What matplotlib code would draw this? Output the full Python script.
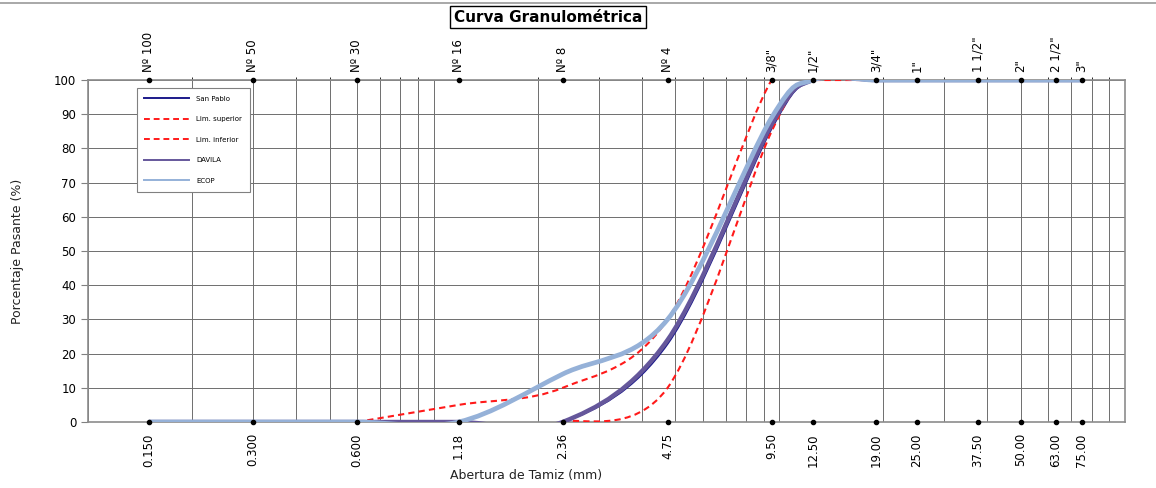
import numpy as np
import matplotlib.pyplot as plt
from matplotlib.path import Path
from matplotlib.patches import PathPatch
from matplotlib.lines import Line2D

# sieve openings (mm) and names
sizes = [0.15, 0.3, 0.6, 1.18, 2.36, 4.75, 9.5, 12.5, 19, 25, 37.5, 50, 63, 75]
size_labels = ["0.150", "0.300", "0.600", "1.18", "2.36", "4.75", "9.50", "12.50",
               "19.00", "25.00", "37.50", "50.00", "63.00", "75.00"]
sieve_names = ["Nº 100", "Nº 50", "Nº 30", "Nº 16", "Nº 8", "Nº 4", '3/8"', '1/2"',
               '3/4"', '1"', '1 1/2"', '2"', '2 1/2"', '3"']

san_pablo = [0, 0, 0, 0, 0, 23, 86, 100, 100, 100, 100, 100, 100, 100]
davila = [0, 0, 0, 0, 0, 24, 87, 100, 100, 100, 100, 100, 100, 100]
ecop = [0, 0, 0, 0, 14, 30, 89, 100, 100, 100, 100, 100, 100, 100]

lim_sup_sizes = [0.6, 1.18, 2.36, 4.75, 9.5, 12.5, 19, 25, 37.5, 50, 63, 75]
lim_sup = [0, 5, 10, 30, 100, 100, 100, 100, 100, 100, 100, 100]
lim_inf_sizes = [2.36, 4.75, 9.5, 12.5, 19, 25, 37.5, 50, 63, 75]
lim_inf = [0, 10, 85, 100, 100, 100, 100, 100, 100, 100]


def smooth_path(xs, ys):
    # excel-like smoothed line: catmull-rom as cubic bezier in (log x, y)
    lx = np.log10(xs)
    ys = np.asarray(ys, dtype=float)
    n = len(lx)
    verts = [(xs[0], ys[0])]
    codes = [Path.MOVETO]
    for i in range(n - 1):
        i0 = max(i - 1, 0)
        i3 = min(i + 2, n - 1)
        c1x = lx[i] + (lx[i + 1] - lx[i0]) / 6
        c1y = ys[i] + (ys[i + 1] - ys[i0]) / 6
        c2x = lx[i + 1] - (lx[i3] - lx[i]) / 6
        c2y = ys[i + 1] - (ys[i3] - ys[i]) / 6
        verts += [(10 ** c1x, c1y), (10 ** c2x, c2y), (xs[i + 1], ys[i + 1])]
        codes += [Path.CURVE4] * 3
    return Path(verts, codes)


GRID = '#6e6e6e'

fig = plt.figure(figsize=(11.56, 4.88), dpi=100)
ax = fig.add_axes([0.0761, 0.1352, 0.8971, 0.7008])
ax.set_xscale('log')
ax.set_xlim(0.1, 100)
ax.set_ylim(0, 100)

ax.grid(True, which='major', axis='y', color=GRID, lw=0.7)
ax.set_yticks(range(0, 101, 10))
ax.tick_params(axis='y', labelsize=8.5, length=5, color='#808080')
for s in ax.spines.values():
    s.set_color('#8c8c8c')
    s.set_linewidth(1.2)

ax.set_xticks(sizes, labels=size_labels, rotation=90, fontsize=8.5)
ax.set_xticks([], minor=True)
ax.tick_params(axis='x', which='both', length=0, pad=8)
# gridlines at standard log positions
for d in [0.1, 1, 10]:
    for k in range(1, 10):
        ax.axvline(d * k, color=GRID, lw=0.7, zorder=0.5)

top = ax.secondary_xaxis('top')
top.set_xticks(sizes, labels=sieve_names, rotation=90, fontsize=8.5)
top.tick_params(length=0, pad=6)
top.spines['top'].set_visible(False)

series = [
    (sizes, san_pablo, 'San Pablo', '#1c1a8a', 1.8, '-'),
    (lim_sup_sizes, lim_sup, 'Lim. superior', '#ff1a1a', 1.5, (0, (3, 2))),
    (lim_inf_sizes, lim_inf, 'Lim. inferior', '#ff1a1a', 1.5, (0, (3, 2))),
    (sizes, davila, 'DAVILA', '#65579b', 3.2, '-'),
    (sizes, ecop, 'ECOP', '#95b1d8', 3.4, '-'),
]
handles = []
for i, (xs, ys, name, col, lw, ls) in enumerate(series):
    patch = PathPatch(smooth_path(xs, ys), fill=False, edgecolor=col, lw=lw,
                      linestyle=ls, zorder=3 + i, capstyle='butt')
    ax.add_patch(patch)
    handles.append(Line2D([], [], color=col, lw=1.4, linestyle=ls))

# sieve markers along bottom and top
ax.scatter(sizes, [0] * len(sizes), s=9, color='black', zorder=10, clip_on=False)
ax.scatter(sizes, [100] * len(sizes), s=9, color='black', zorder=10, clip_on=False)

leg = ax.legend(handles, [s[2] for s in series], loc='upper left',
                bbox_to_anchor=(0.047, 0.977), borderaxespad=0, fontsize=5,
                handlelength=6.5, labelspacing=2.1, fancybox=False,
                edgecolor='#808080', framealpha=1, borderpad=1.1, handletextpad=1.0)
leg.get_frame().set_linewidth(0.8)

ax.set_ylabel('Porcentaje Pasante (%)', fontsize=9, color='#222222')
ax.yaxis.set_label_coords(-0.062, 0.5)
fig.text(0.455, 0.018, 'Abertura de Tamiz (mm)', fontsize=9, ha='center', color='#222222')

fig.text(0.474, 0.965, 'Curva Granulométrica', fontsize=11, fontweight='bold',
         ha='center', va='center',
         bbox=dict(boxstyle='square,pad=0.25', fc='white', ec='black', lw=1))

fig.add_artist(Line2D([0, 1], [0.994, 0.994], color='#999999', lw=1.2))

fig.savefig('out.png', dpi=100)
